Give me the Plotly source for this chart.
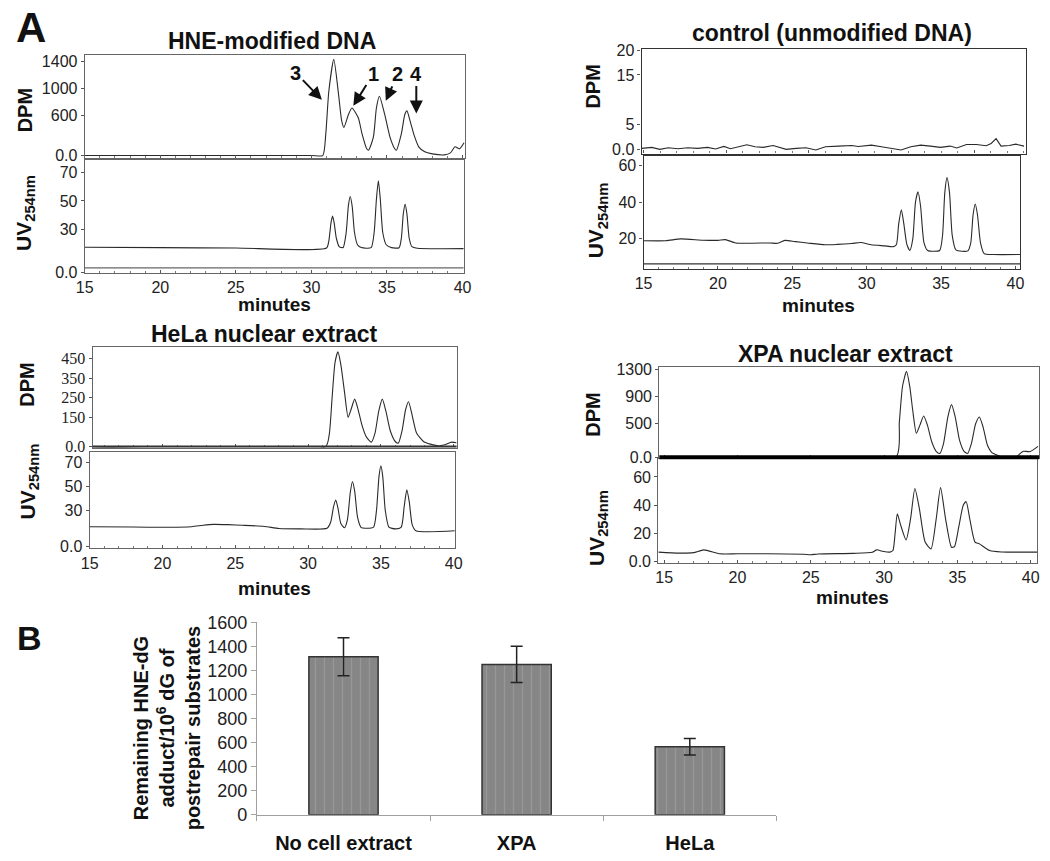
import plotly.graph_objects as go

W, H = 1050, 861

# ---------------- data ----------------
# HNE-modified DNA
hne_dpm_min = [15, 30.0, 30.75, 30.95, 31.15, 31.48, 31.8, 32.0, 32.15, 32.45, 32.68, 33.1, 33.35, 33.65, 33.78,
               34.1, 34.3, 34.5, 34.85, 35.2, 35.5, 35.62, 35.95, 36.18, 36.32, 36.55, 36.8, 37.1, 37.5, 38.0,
               38.8, 39.2, 39.5, 39.8, 40.1]
hne_dpm_val = [0, 0, 0, 323, 957, 1435, 903, 522, 420, 613, 710, 565, 323, 106, 80, 275, 710, 885, 613, 275,
               106, 80, 323, 613, 667, 500, 300, 130, 55, 25, 10, 40, 130, 100, 190]
hne_uv_min = [15, 20, 25, 31.0, 31.15, 31.3, 31.4, 31.5, 31.65, 31.85, 32.1, 32.3, 32.45, 32.57, 32.7, 32.85,
              33.05, 33.3, 33.95, 34.15, 34.3, 34.43, 34.56, 34.72, 34.95, 35.3, 35.8, 35.95, 36.08, 36.2, 36.32,
              36.47, 36.65, 37.0, 40.4]
hne_uv_val = [17.7, 17.5, 17.2, 17.2, 22, 35, 39.4, 35, 24, 18, 17.6, 28, 47, 53, 46, 28, 19.5, 17.5, 17.5, 28,
              51, 64, 51, 28, 19.5, 17.5, 17.4, 24, 41, 47.6, 41, 24, 18.2, 17.0, 16.8]

# control (unmodified DNA)
ctrl_dpm_min = [14.9, 15.49, 15.99, 16.49, 17.08, 17.68, 18.27, 18.87, 19.36, 19.86, 20.26, 20.85, 21.25, 21.75,
                22.24, 22.84, 23.33, 23.63, 24.23, 24.82, 25.42, 26.01, 26.8, 27.6, 27.99, 28.79, 29.39, 29.98,
                30.58, 31.17, 31.77, 32.36, 32.96, 33.55, 33.95, 34.54, 35.14, 35.73, 36.03, 36.33, 36.63, 37.13,
                37.52, 38.02]
ctrl_dpm_val = [0.26, 0.46, 0.07, 0.39, 0.2, 0.39, 0.26, 0.46, 0.13, 0.65, 0.2, 0.59, 0.98, 0.59, 0.46, 0.85,
                0.33, 0.07, 0.26, 0.39, -0.07, 0.59, 0.72, 0.85, 0.65, 0.91, 0.59, 0.33, -0.07, 0.59, 0.91, 0.72,
                0.46, 0.72, 0.33, 1.05, 1.05, 0.78, 1.24, 2.22, 0.72, 0.85, 1.11, 0.72]
ctrl_uv_min = [15, 16.5, 17.5, 19, 20.0, 20.5, 21.2, 23.5, 24.0, 24.5, 25.2, 26, 27.2, 28.0, 29.0, 29.6, 30.3,
               31.2, 31.8, 32.0, 32.15, 32.33, 32.5, 32.7, 32.9, 33.1, 33.28, 33.45, 33.62, 33.85, 34.1, 34.9,
               35.1, 35.25, 35.4, 35.57, 35.75, 36.0, 36.8, 37.0, 37.15, 37.3, 37.45, 37.65, 37.9, 38.5, 40.3]
ctrl_uv_val = [19, 19, 20, 19.3, 19.2, 19.6, 17.8, 17.8, 17.6, 19.2, 18.5, 17.8, 16.8, 17, 17.5, 18, 16.8, 16.2,
               15.8, 17, 28, 35.8, 28, 17, 13.7, 20, 40, 45.6, 38, 18, 13.7, 13.7, 22, 45, 53.3, 45, 22, 14,
               13.5, 18, 33, 39, 33, 18, 12, 11.5, 11.5]

# HeLa nuclear extract
hela_dpm_min = [15, 31.2, 31.45, 31.65, 31.85, 32.05, 32.25, 32.5, 32.75, 32.95, 33.2, 33.4, 33.7, 34.0, 34.35,
                34.6, 34.85, 35.1, 35.35, 35.65, 36.0, 36.2, 36.45, 36.7, 36.9, 37.15, 37.45, 37.95, 38.85, 39.4,
                39.86, 40.2]
hela_dpm_val = [0, 0, 60, 250, 430, 485, 420, 280, 150, 190, 243, 200, 110, 50, 23, 70, 180, 243, 180, 80, 25,
                18, 80, 190, 230, 160, 70, 25, 5, 10, 23, 20]
hela_uv_min = [15, 18, 20, 22, 22.8, 23.5, 24.5, 25.5, 27, 28, 29.5, 31.3, 31.55, 31.75, 31.9, 32.05, 32.25,
               32.5, 32.7, 32.9, 33.05, 33.2, 33.4, 33.65, 34.0, 34.5, 34.7, 34.87, 35.0, 35.13, 35.3, 35.55,
               36.0, 36.4, 36.6, 36.78, 36.95, 37.15, 37.4, 40.2]
hela_uv_val = [16.3, 16.0, 15.8, 16.3, 17.5, 18.2, 18, 17.5, 16.5, 14.8, 14.5, 15, 20, 33, 38.5, 32, 19, 15.4,
               22, 45, 54, 46, 24, 15.5, 15, 16, 30, 58, 67, 58, 30, 16, 14.5, 16, 33, 47, 37, 18, 13, 13]

# XPA nuclear extract
xpa_dpm_min = [15, 30.8, 31.04, 31.26, 31.53, 31.75, 31.95, 32.2, 32.45, 32.7, 32.95, 33.25, 33.55, 33.8, 34.05,
               34.35, 34.6, 34.85, 35.15, 35.45, 35.7, 35.95, 36.25, 36.5, 36.75, 37.05, 37.35, 37.6, 38.0, 39.0,
               39.3, 39.5, 39.95, 40.5]
xpa_dpm_val = [0, 0, 525, 1055, 1272, 1050, 700, 357, 480, 611, 480, 230, 90, 58, 200, 600, 780, 600, 250, 90,
               58, 200, 500, 597, 450, 180, 70, 43, 10, 5, 60, 91, 85, 163]
xpa_uv_min = [14.6, 16, 17, 17.7, 18.8, 20, 22, 24.5, 25, 25.5, 27.9, 29.2, 29.5, 29.9, 30.4, 30.6, 30.75, 30.9,
              31.1, 31.5, 31.8, 32.1, 32.4, 32.8, 33.2, 33.55, 33.85, 34.2, 34.6, 34.8, 35.1, 35.4, 35.6, 35.85,
              36.2, 36.5, 37.2, 38, 40.5]
xpa_uv_val = [6.9, 6.2, 6.5, 8.5, 5.7, 5.7, 5.7, 5.4, 5.0, 5.6, 6, 6.8, 8.5, 7.5, 6.9, 8, 20, 34, 27, 15.5, 30,
              51.8, 38, 14, 9.2, 30, 52.4, 30, 10.3, 10.8, 25, 40, 42.5, 30, 14, 12.7, 8, 7, 6.9]

# tick values of each axis
hne_dpm_ticks = [0, 600, 1000, 1400]
hne_uv_ticks = [0, 30, 50, 70]
ctrl_dpm_ticks = [0, 5, 15, 20]
ctrl_uv_ticks = [20, 40, 60]
hela_dpm_ticks = [0, 150, 250, 350, 450]
hela_uv_ticks = [0, 30, 50, 70]
xpa_dpm_ticks = [0, 500, 900, 1300]
xpa_uv_ticks = [0, 20, 40, 60]

# panel B
bar_cats = ["No cell extract", "XPA", "HeLa"]
bar_vals = [1315, 1251, 566]
bar_err = [158, 150, 69]
bar_ticks = [0, 200, 400, 600, 800, 1000, 1200, 1400, 1600]


# ---------------- helpers ----------------
def xdom(a, b):
    return [a / W, b / W]


def ydom(top, bottom):
    return [1 - bottom / H, 1 - top / H]


def rng(p0, p1, c0, v0, c1, v1):
    s = (v1 - v0) / (c1 - c0)
    return [v0 + (p0 - c0) * s, v0 + (p1 - c0) * s]


def px(x, y):
    return x / W, 1 - y / H


SANS = "Liberation Sans"
SERIF = "Liberation Serif"

panels = [
    dict(x=hne_dpm_min, y=hne_dpm_val, xpx=(77, 464), xcal=(77, 15, 461, 40), ypx=(46, 152),
         ycal=(149, 0, 53, 1400), yt=hne_dpm_ticks, lab=False, font=SANS, shape="spline", lc="#666"),
    dict(x=hne_uv_min, y=hne_uv_val, xpx=(77, 462), xcal=(77, 15, 461, 40), ypx=(154, 269),
         ycal=(269, 0, 166, 70), yt=hne_uv_ticks, lab=True, font=SANS, shape="spline", lc="#666"),
    dict(x=ctrl_dpm_min, y=ctrl_dpm_val, xpx=(643, 1034), xcal=(645, 15, 981, 35), ypx=(40, 147),
         ycal=(143, 0, 41, 20), yt=ctrl_dpm_ticks, lab=False, font=SANS, shape="linear", lc="#333"),
    dict(x=ctrl_uv_min, y=ctrl_uv_val, xpx=(645, 1028), xcal=(645, 15, 1023, 40), ypx=(149, 265),
         ycal=(272, 0, 159, 60), yt=ctrl_uv_ticks, lab=True, font=SANS, shape="spline", lc="#333"),
    dict(x=hela_dpm_min, y=hela_dpm_val, xpx=(85, 455), xcal=(82, 15, 452, 40), ypx=(345, 448),
         ycal=(447, 0, 357, 450), yt=hela_dpm_ticks, lab=False, font=SERIF, shape="spline", lc="#666"),
    dict(x=hela_uv_min, y=hela_uv_val, xpx=(82, 453), xcal=(82, 15, 452, 40), ypx=(453, 551),
         ycal=(549, 0, 463, 70), yt=hela_uv_ticks, lab=True, font=SANS, shape="spline", lc="#666"),
    dict(x=xpa_dpm_min, y=xpa_dpm_val, xpx=(661, 1047), xcal=(666, 15, 1038.5, 40), ypx=(366, 459),
         ycal=(458, 0, 368, 1300), yt=xpa_dpm_ticks, lab=False, font=SANS, shape="spline", lc="#666"),
    dict(x=xpa_uv_min, y=xpa_uv_val, xpx=(660, 1045), xcal=(666, 15, 1038.5, 40), ypx=(460, 566),
         ycal=(565, 0, 478, 60), yt=xpa_uv_ticks, lab=True, font=SANS, shape="spline", lc="#666"),
]

fig = go.Figure()
layout = {}
for i, p in enumerate(panels, start=1):
    sx = "x" if i == 1 else f"x{i}"
    sy = "y" if i == 1 else f"y{i}"
    fig.add_trace(go.Scatter(x=p["x"], y=p["y"], mode="lines",
                             line=dict(color="#2a2a2a", width=1.1, shape=p["shape"], smoothing=0.6),
                             xaxis=sx, yaxis=sy, showlegend=False, hoverinfo="skip"))
    xa = "xaxis" if i == 1 else f"xaxis{i}"
    ya = "yaxis" if i == 1 else f"yaxis{i}"
    layout[xa] = dict(domain=xdom(*p["xpx"]), range=rng(p["xpx"][0], p["xpx"][1], *p["xcal"]), anchor=sy,
                      showline=True, mirror=True, linecolor=p["lc"], linewidth=1.2, showgrid=False,
                      zeroline=False, tick0=15, dtick=5, ticks="inside", ticklen=3, tickcolor="#555",
                      showticklabels=p["lab"], tickfont=dict(family=SANS, size=16, color="#222"),
                      minor=dict(tick0=15, dtick=1, ticks="inside", ticklen=2, tickcolor="#777"))
    layout[ya] = dict(domain=ydom(*p["ypx"]),
                      range=rng(p["ypx"][1], p["ypx"][0], *p["ycal"]), anchor=sx,
                      showline=True, mirror=True, linecolor=p["lc"], linewidth=1.2, showgrid=False,
                      zeroline=False, tickmode="array", tickvals=p["yt"],
                      ticktext=["0.0" if v == 0 else str(v) for v in p["yt"]],
                      ticks="outside", ticklen=3, tickcolor="#555",
                      tickfont=dict(family=p["font"], size=16, color="#222"))

# ---------------- panel B ----------------
fig.add_trace(go.Bar(x=bar_cats, y=bar_vals, width=0.4, xaxis="x9", yaxis="y9", showlegend=False,
                     marker=dict(color="#8a8a8a", line=dict(color="#333", width=1.5),
                                 pattern=dict(shape="|", fgcolor="#a9a9a9", bgcolor="#868686", size=9,
                                              solidity=0.14)),
                     error_y=dict(type="data", array=bar_err, color="#222", thickness=1.5, width=6)))
layout["xaxis9"] = dict(domain=xdom(252, 780), anchor="y9", showline=True, linecolor="#a0a0a0",
                        ticks="outside", tickson="boundaries", ticklen=5, tickcolor="#a0a0a0",
                        ticklabelstandoff=10, showgrid=False,
                        tickfont=dict(family=SANS, size=20, color="#111", weight="bold"))
layout["yaxis9"] = dict(domain=ydom(627, 824), anchor="x9", range=[0, 1600], tickmode="array",
                        tickvals=bar_ticks, showline=True, linecolor="#a0a0a0", ticks="outside", ticklen=5,
                        tickcolor="#a0a0a0", showgrid=False, zeroline=False,
                        tickfont=dict(family=SANS, size=18, color="#222"))

# ---------------- text ----------------
ann = []


def text(x, y, s, size, bold=True, angle=0, family=SANS):
    X, Y = px(x, y)
    ann.append(dict(x=X, y=Y, xref="paper", yref="paper", text=s, showarrow=False, textangle=angle,
                    xanchor="center", yanchor="middle",
                    font=dict(family=family, size=size, color="#111", weight="bold" if bold else "normal")))


text(22, 18, "A", 42)
text(21, 643, "B", 34)
text(267, 32, "HNE-modified DNA", 23)
text(837, 24, "control (unmodified DNA)", 23)
text(260, 332, "HeLa nuclear extract", 23)
text(850, 352, "XPA nuclear extract", 23)
for (x, y) in [(16, 103), (594, 78), (18, 384), (594, 414)]:
    text(x, y, "DPM", 20, angle=-90)
for (x, y) in [(16, 208), (598, 215), (20, 483), (598, 530)]:
    text(x, y, "UV<sub>254nm</sub>", 21, angle=-90)
for (x, y) in [(270, 301), (823, 303), (270, 592), (857, 601)]:
    text(x, y, "minutes", 19)
text(161, 735, "Remaining HNE-dG<br>adduct/10<sup>6</sup> dG of<br>postrepair substrates", 20, angle=-90)

# peak arrows (HNE-modified DNA)
for lab, head, tail in [("3", (318, 92), (292, 65)), ("1", (350, 98), (370, 66)),
                        ("2", (383, 93), (395, 66)), ("4", (414, 106), (414, 66))]:
    X, Y = px(*head)
    ann.append(dict(x=X, y=Y, xref="paper", yref="paper", text=lab, showarrow=True,
                    ax=tail[0] - head[0], ay=tail[1] - head[1], arrowhead=2, arrowsize=1.3, arrowwidth=2,
                    arrowcolor="#111", font=dict(family=SANS, size=20, color="#111", weight="bold")))

# extra lines seen in the scan
shapes = []


def hline(x0, x1, y, w, c):
    shapes.append(dict(type="line", xref="paper", yref="paper", x0=x0 / W, x1=x1 / W, y0=1 - y / H,
                       y1=1 - y / H, line=dict(color=c, width=w)))


hline(77, 462, 264, 1.2, "#666")
hline(645, 1028, 260, 1.2, "#333")
hline(85, 455, 447, 2, "#333")
hline(661, 1047, 458, 4, "#000")

fig.update_layout(width=W, height=H, autosize=False, margin=dict(l=0, r=0, t=0, b=0),
                  paper_bgcolor="white", plot_bgcolor="white", annotations=ann, shapes=shapes,
                  font=dict(family=SANS, color="#111"), bargap=0.6, **layout)

fig.write_html("out.html", config={"displayModeBar": False},
               post_script="document.body.style.margin='0px';")
